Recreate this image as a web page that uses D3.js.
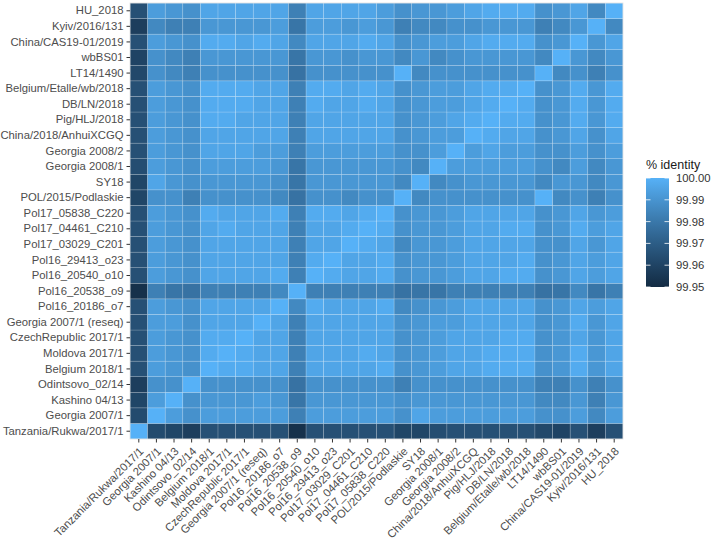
<!DOCTYPE html>
<html><head><meta charset="utf-8">
<script src="https://cdn.jsdelivr.net/npm/d3@7/dist/d3.min.js"></script>
<style>body{margin:0;background:#fff}svg{display:block}</style>
</head><body>
<script>
const categories = ["Tanzania/Rukwa/2017/1","Georgia 2007/1","Kashino 04/13","Odintsovo_02/14","Belgium 2018/1","Moldova 2017/1","CzechRepublic 2017/1","Georgia 2007/1 (reseq)","Pol16_20186_o7","Pol16_20538_o9","Pol16_20540_o10","Pol16_29413_o23","Pol17_03029_C201","Pol17_04461_C210","Pol17_05838_C220","POL/2015/Podlaskie","SY18","Georgia 2008/1","Georgia 2008/2","China/2018/AnhuiXCGQ","Pig/HLJ/2018","DB/LN/2018","Belgium/Etalle/wb/2018","LT14/1490","wbBS01","China/CAS19-01/2019","Kyiv/2016/131","HU_2018"];

// lower triangle of % identity matrix: row i holds columns 0..i-1 (diagonal = 100)
const identityLower = [
 [],
 [99.963],
 [99.961,99.993],
 [99.958,99.989,99.989],
 [99.965,99.993,99.991,99.989],
 [99.965,99.993,99.991,99.989,99.998],
 [99.965,99.993,99.991,99.989,99.998,99.998],
 [99.965,99.993,99.993,99.989,99.996,99.996,99.996],
 [99.965,99.993,99.991,99.989,99.996,99.996,99.996,99.996],
 [99.9525,99.983,99.979,99.978,99.983,99.983,99.983,99.983,99.986],
 [99.965,99.993,99.991,99.989,99.996,99.996,99.996,99.996,99.998,99.983],
 [99.965,99.993,99.991,99.989,99.996,99.996,99.996,99.996,99.996,99.983,99.998],
 [99.965,99.993,99.991,99.989,99.996,99.996,99.996,99.996,99.996,99.983,99.996,99.996],
 [99.965,99.993,99.991,99.989,99.996,99.998,99.996,99.996,99.996,99.983,99.996,99.996,99.998],
 [99.965,99.993,99.991,99.989,99.998,99.996,99.996,99.996,99.998,99.983,99.998,99.998,99.996,99.998],
 [99.961,99.989,99.989,99.983,99.989,99.989,99.989,99.989,99.986,99.978,99.989,99.989,99.986,99.989,99.989],
 [99.961,99.996,99.991,99.989,99.991,99.991,99.991,99.991,99.989,99.979,99.991,99.991,99.991,99.991,99.991,99.986],
 [99.964,99.993,99.991,99.989,99.993,99.993,99.993,99.993,99.991,99.979,99.991,99.991,99.991,99.991,99.991,99.989,99.986],
 [99.965,99.993,99.991,99.989,99.996,99.996,99.996,99.993,99.993,99.983,99.993,99.993,99.993,99.993,99.993,99.989,99.989,99.993],
 [99.965,99.993,99.991,99.989,99.996,99.996,99.996,99.996,99.996,99.983,99.996,99.996,99.996,99.996,99.996,99.989,99.991,99.993,99.993],
 [99.965,99.993,99.991,99.989,99.998,99.998,99.996,99.996,99.996,99.983,99.996,99.996,99.996,99.996,99.996,99.989,99.991,99.993,99.996,99.998],
 [99.965,99.993,99.991,99.989,99.998,99.998,99.998,99.996,99.996,99.983,99.998,99.996,99.996,99.998,99.996,99.989,99.991,99.993,99.993,99.996,99.998],
 [99.965,99.993,99.991,99.989,99.998,99.998,99.998,99.996,99.996,99.983,99.998,99.998,99.996,99.998,99.996,99.989,99.991,99.993,99.993,99.996,99.998,99.998],
 [99.962,99.989,99.986,99.983,99.989,99.989,99.989,99.989,99.989,99.978,99.989,99.989,99.989,99.989,99.989,100,99.986,99.989,99.989,99.989,99.989,99.989,99.989],
 [99.960,99.989,99.986,99.983,99.991,99.991,99.991,99.991,99.991,99.979,99.991,99.991,99.989,99.991,99.991,99.986,99.991,99.986,99.989,99.991,99.991,99.991,99.991,99.986],
 [99.965,99.993,99.991,99.989,99.998,99.998,99.996,99.998,99.996,99.986,99.996,99.996,99.996,99.998,99.996,99.989,99.991,99.993,99.993,99.996,99.998,99.998,99.998,99.989,99.991],
 [99.958,99.986,99.983,99.983,99.991,99.991,99.991,99.991,99.993,99.979,99.993,99.993,99.991,99.993,99.991,99.983,99.986,99.986,99.989,99.989,99.991,99.991,99.991,99.983,99.986,99.991],
 [99.965,99.993,99.991,99.989,99.996,99.996,99.996,99.996,99.996,99.983,99.996,99.996,99.996,99.996,99.993,99.989,99.991,99.991,99.993,99.996,99.998,99.998,99.998,99.989,99.991,99.996,99.986]
];
const legendTicks = [100.00, 99.99, 99.98, 99.97, 99.96, 99.95];
const legendTitle = "% identity";

const n = categories.length;
const cells = [];
for (let i = 0; i < n; i++) for (let j = 0; j < n; j++) {
  const v = i === j ? 100 : (i > j ? identityLower[i][j] : identityLower[j][i]);
  cells.push({xi: j, yi: i, v});
}

const W = 711, H = 540;
const svg = d3.select("body").append("svg").attr("width", W).attr("height", H);
const font = "'Liberation Sans', Arial, Helvetica, sans-serif";

const x = d3.scaleBand().domain(d3.range(n)).range([130, 623]);
const y = d3.scaleBand().domain(d3.range(n)).range([439, 3]);
const color = d3.scaleSequential(d3.interpolateLab("#132B43", "#56B1F7")).domain([99.95, 100]).clamp(true);

svg.append("g").selectAll("rect").data(cells).join("rect")
  .attr("x", d => x(d.xi)).attr("y", d => y(d.yi))
  .attr("width", x.bandwidth()).attr("height", y.bandwidth())
  .attr("fill", d => color(d.v))
  .attr("stroke", "rgba(255,255,255,0.28)").attr("stroke-width", 0.6);

svg.append("rect").attr("x", 130).attr("y", 3).attr("width", 493).attr("height", 436)
  .attr("fill", "none").attr("stroke", "#e0e0e0").attr("stroke-width", 0.8);

const xAxis = svg.append("g").attr("transform", "translate(0,439)")
  .call(d3.axisBottom(x).tickFormat(i => categories[i]).tickSize(3.5).tickPadding(3));
xAxis.select(".domain").remove();
xAxis.selectAll(".tick line").attr("stroke", "#333").attr("stroke-width", 1);
xAxis.selectAll(".tick text")
  .attr("font-family", font).attr("font-size", 11.3).attr("fill", "#4D4D4D")
  .attr("text-anchor", "end").attr("dy", null).attr("y", 0)
  .attr("transform", "translate(5.5,13) rotate(-45)");

const yAxis = svg.append("g").attr("transform", "translate(130,0)")
  .call(d3.axisLeft(y).tickFormat(i => categories[i]).tickSize(3.5).tickPadding(3));
yAxis.select(".domain").remove();
yAxis.selectAll(".tick line").attr("stroke", "#333").attr("stroke-width", 1);
yAxis.selectAll(".tick text")
  .attr("font-family", font).attr("font-size", 11.3).attr("fill", "#4D4D4D");

// legend
const lg = svg.append("g");
const barTop = 178, barBot = 287, barX = 646, barW = 23;
const defs = svg.append("defs");
const grad = defs.append("linearGradient").attr("id", "lg").attr("x1", 0).attr("y1", 1).attr("x2", 0).attr("y2", 0);
d3.range(0, 1.0001, 0.1).forEach(t => grad.append("stop").attr("offset", t).attr("stop-color", color(99.95 + 0.05 * t)));
lg.append("rect").attr("x", barX).attr("y", barTop).attr("width", barW).attr("height", barBot - barTop).attr("fill", "url(#lg)");
const ly = d3.scaleLinear().domain([99.95, 100]).range([barBot, barTop]);
legendTicks.forEach(t => {
  lg.append("line").attr("x1", barX).attr("x2", barX + 4.5).attr("y1", ly(t)).attr("y2", ly(t)).attr("stroke", "#fff").attr("stroke-width", 0.8);
  lg.append("line").attr("x1", barX + barW - 4.5).attr("x2", barX + barW).attr("y1", ly(t)).attr("y2", ly(t)).attr("stroke", "#fff").attr("stroke-width", 0.8);
  lg.append("text").attr("x", barX + barW + 7).attr("y", ly(t)).attr("dy", "0.35em")
    .attr("font-family", font).attr("font-size", 11.3).attr("fill", "#333").text(t.toFixed(2));
});
lg.append("text").attr("x", barX).attr("y", 169).attr("font-family", font).attr("font-size", 12.5)
  .attr("font-weight", 400).attr("fill", "#1a1a1a").text(legendTitle);
</script>
</body></html>
